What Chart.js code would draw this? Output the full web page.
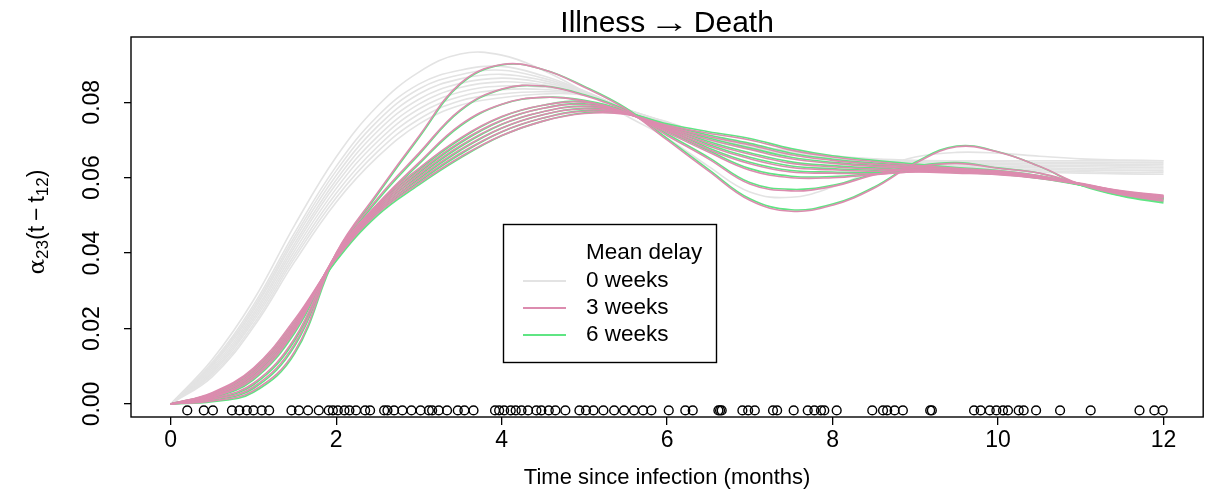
<!DOCTYPE html>
<html>
<head>
<meta charset="utf-8">
<script src="https://cdn.jsdelivr.net/npm/chart.js@4.4.1/dist/chart.umd.min.js"></script>
<style>
  html, body { margin: 0; padding: 0; background: #fff; }
</style>
</head>
<body>
<canvas id="myChart" width="1209" height="493"></canvas>
<script>
// time grid (months since infection) for the hazard curves
const months = [0, 0.5, 1, 1.5, 2, 2.5, 3, 3.5, 4, 4.5, 5, 5.5, 6, 6.5, 7, 7.5, 8, 8.5, 9, 9.5, 10, 10.5, 11, 11.5, 12];

// mean delay 0 weeks
const weeks0 = [
  [0, .0117, .0275, .0475, .0655, .0790, .0880, .0928, .0925, .0885, .0828, .0765, .0705, .0630, .0562, .0548, .0575, .0620, .0655, .0667, .0665, .0657, .0650, .0647, .0645],
  [0, .0110, .0262, .0455, .0630, .0763, .0848, .0885, .0895, .0870, .0830, .0782, .0748, .0712, .0688, .0670, .0658, .0650, .0646, .0645, .0645, .0645, .0645, .0645, .0645],
  [0, .0105, .0255, .0445, .0618, .0750, .0835, .0873, .0885, .0864, .0829, .0782, .0747, .0711, .0687, .0669, .0657, .0649, .0644, .0642, .0642, .0641, .0641, .0641, .0640],
  [0, .0101, .0248, .0436, .0606, .0736, .0822, .0862, .0874, .0858, .0827, .0782, .0746, .0709, .0685, .0668, .0656, .0647, .0642, .0639, .0638, .0637, .0637, .0636, .0636],
  [0, .0096, .0240, .0426, .0594, .0723, .0808, .0850, .0864, .0852, .0826, .0781, .0745, .0708, .0684, .0666, .0654, .0646, .0640, .0636, .0635, .0633, .0633, .0632, .0631],
  [0, .0091, .0233, .0417, .0583, .0709, .0795, .0839, .0854, .0846, .0824, .0781, .0744, .0706, .0682, .0665, .0653, .0644, .0638, .0634, .0631, .0630, .0629, .0628, .0627],
  [0, .0086, .0226, .0407, .0571, .0696, .0782, .0827, .0843, .0840, .0823, .0780, .0743, .0705, .0681, .0664, .0652, .0643, .0636, .0631, .0628, .0626, .0624, .0623, .0623],
  [0, .0082, .0219, .0397, .0559, .0682, .0769, .0815, .0833, .0834, .0821, .0780, .0742, .0703, .0679, .0663, .0651, .0641, .0634, .0628, .0624, .0622, .0620, .0619, .0618],
  [0, .0077, .0211, .0388, .0547, .0669, .0755, .0804, .0822, .0828, .0820, .0779, .0741, .0702, .0678, .0661, .0649, .0640, .0632, .0625, .0621, .0618, .0616, .0614, .0614],
  [0, .0072, .0204, .0378, .0535, .0655, .0742, .0792, .0812, .0822, .0818, .0779, .0740, .0700, .0676, .0660, .0648, .0638, .0630, .0622, .0617, .0614, .0612, .0610, .0609]
];

// mean delay 3 weeks
const weeks3 = [
  [0, .0008, .0035, .0140, .0400, .0560, .0710, .0850, .0900, .0887, .0840, .0782, .0700, .0618, .0540, .0511, .0527, .0572, .0638, .0682, .0668, .0630, .0582, .0555, .0538],
  [0, .0012, .0045, .0160, .0400, .0545, .0665, .0780, .0835, .0843, .0818, .0777, .0712, .0650, .0583, .0565, .0577, .0607, .0628, .0638, .0625, .0612, .0583, .0556, .0542],
  [0, .0015, .0055, .0175, .0398, .0530, .0640, .0740, .0795, .0813, .0803, .0773, .0720, .0668, .0620, .0600, .0600, .0608, .0616, .0618, .0613, .0604, .0582, .0558, .0546],
  [0, .0018, .0068, .0195, .0397, .0530, .0625, .0705, .0762, .0792, .0800, .0772, .0725, .0675, .0637, .0615, .0612, .0610, .0615, .0612, .0608, .0598, .0582, .0560, .0548],
  [0, .0020, .0073, .0201, .0395, .0525, .0617, .0695, .0752, .0784, .0794, .0771, .0728, .0684, .0650, .0627, .0621, .0617, .0619, .0615, .0610, .0599, .0583, .0561, .0549],
  [0, .0023, .0079, .0207, .0392, .0520, .0609, .0685, .0742, .0775, .0788, .0770, .0731, .0692, .0662, .0638, .0629, .0623, .0622, .0617, .0612, .0601, .0583, .0562, .0550],
  [0, .0025, .0084, .0213, .0390, .0515, .0601, .0675, .0732, .0767, .0782, .0770, .0733, .0701, .0675, .0650, .0638, .0630, .0626, .0620, .0614, .0602, .0584, .0563, .0551],
  [0, .0028, .0090, .0219, .0387, .0510, .0593, .0665, .0722, .0758, .0776, .0769, .0736, .0709, .0687, .0661, .0646, .0636, .0629, .0622, .0616, .0604, .0584, .0564, .0552],
  [0, .0030, .0095, .0225, .0385, .0505, .0585, .0655, .0712, .0750, .0770, .0768, .0739, .0718, .0700, .0673, .0655, .0643, .0633, .0625, .0618, .0605, .0585, .0565, .0553]
];

// mean delay 6 weeks
const weeks6 = [
  [0, .0006, .0031, .0134, .0394, .0555, .0706, .0847, .0899, .0887, .0842, .0785, .0704, .0622, .0544, .0515, .0530, .0575, .0641, .0684, .0669, .0630, .0580, .0551, .0533],
  [0, .0010, .0041, .0154, .0394, .0540, .0661, .0777, .0834, .0843, .0820, .0780, .0716, .0654, .0587, .0569, .0580, .0610, .0631, .0640, .0626, .0612, .0581, .0552, .0537],
  [0, .0013, .0051, .0169, .0392, .0525, .0636, .0737, .0794, .0813, .0805, .0776, .0724, .0672, .0624, .0604, .0603, .0611, .0619, .0620, .0614, .0604, .0580, .0554, .0541],
  [0, .0016, .0064, .0189, .0391, .0525, .0621, .0702, .0761, .0792, .0802, .0775, .0729, .0679, .0641, .0619, .0615, .0613, .0618, .0614, .0609, .0598, .0580, .0556, .0543],
  [0, .0018, .0069, .0195, .0389, .0520, .0613, .0692, .0751, .0784, .0796, .0774, .0732, .0688, .0654, .0631, .0624, .0620, .0622, .0617, .0611, .0599, .0581, .0557, .0544],
  [0, .0021, .0075, .0201, .0386, .0515, .0605, .0682, .0741, .0775, .0790, .0773, .0735, .0696, .0666, .0642, .0632, .0626, .0625, .0619, .0613, .0601, .0581, .0558, .0545],
  [0, .0023, .0080, .0207, .0384, .0510, .0597, .0672, .0731, .0767, .0784, .0773, .0737, .0705, .0679, .0654, .0641, .0633, .0629, .0622, .0615, .0602, .0582, .0559, .0546],
  [0, .0026, .0086, .0213, .0381, .0505, .0589, .0662, .0721, .0758, .0778, .0772, .0740, .0713, .0691, .0665, .0649, .0639, .0632, .0624, .0617, .0604, .0582, .0560, .0547],
  [0, .0028, .0091, .0219, .0379, .0500, .0581, .0652, .0711, .0750, .0772, .0771, .0743, .0722, .0704, .0677, .0658, .0646, .0636, .0627, .0619, .0605, .0583, .0561, .0548]
];

// observed death times, shown as a rug of open circles
const deathTimes = [
  0.20, 0.40, 0.51, 0.74, 0.83, 0.92, 1.00, 1.10, 1.19, 1.46, 1.55, 1.66, 1.79, 1.91, 1.96, 2.02,
  2.10, 2.16, 2.24, 2.35, 2.41, 2.58, 2.62, 2.70, 2.80, 2.91, 3.02, 3.12, 3.16, 3.24, 3.34, 3.47,
  3.55, 3.66, 3.92, 3.97, 4.03, 4.11, 4.17, 4.24, 4.32, 4.42, 4.48, 4.57, 4.65, 4.77, 4.94, 5.02,
  5.11, 5.23, 5.36, 5.48, 5.60, 5.71, 5.81, 6.02, 6.22, 6.31, 6.62, 6.64, 6.66, 6.91, 6.98, 7.06,
  7.28, 7.33, 7.53, 7.70, 7.78, 7.86, 7.90, 8.05, 8.48, 8.61, 8.66, 8.75, 8.85, 9.18, 9.20, 9.71,
  9.79, 9.90, 9.98, 10.06, 10.12, 10.25, 10.31, 10.46, 10.75, 11.12, 11.71, 11.89, 11.99
];
const rugLevel = -0.0017;

const xTicks = [0, 2, 4, 6, 8, 10, 12];
const yTicks = [0, 0.02, 0.04, 0.06, 0.08];
const legendLabels = ['0 weeks', '3 weeks', '6 weeks'];
const colours = ['#e3e3e3', '#dc8caf', '#5fe583'];

const FONT = "'Liberation Sans', Arial, Helvetica, sans-serif";

function curveSets(rows, colour, order) {
  return rows.map(r => ({
    type: 'line',
    data: months.map((m, i) => ({ x: m, y: r[i] })),
    borderColor: colour,
    borderWidth: 1.6,
    pointRadius: 0,
    tension: 0.4,
    fill: false,
    order: order
  }));
}

const datasets = [
  ...curveSets(weeks0, colours[0], 4),
  ...curveSets(weeks6, colours[2], 3),
  ...curveSets(weeks3, colours[1], 2),
  {
    type: 'scatter',
    data: deathTimes.map(t => ({ x: t, y: rugLevel })),
    pointStyle: 'circle',
    pointRadius: 4.4,
    pointBorderWidth: 1.4,
    pointBorderColor: '#000',
    pointBackgroundColor: 'rgba(0,0,0,0)',
    order: 1
  }
];

// draws a row of text pieces (font, text, vertical shift) centred on 0
function drawPieces(ctx, parts) {
  let total = 0;
  parts.forEach(p => {
    ctx.font = p.f;
    p.w = ctx.measureText(p.t).width * (p.sx || 1) + (p.gap || 0);
    total += p.w;
  });
  let px = -total / 2;
  ctx.textAlign = 'left';
  parts.forEach(p => {
    ctx.font = p.f;
    ctx.save();
    ctx.translate(px + (p.gap || 0) / 2, p.dy || 0);
    ctx.scale(p.sx || 1, 1);
    ctx.fillText(p.t, 0, 0);
    ctx.restore();
    px += p.w;
  });
}

// frame, titles, rotated y labels and the legend box
const decorations = {
  id: 'decorations',
  afterDraw(chart) {
    const ctx = chart.ctx;
    const a = chart.chartArea;
    const ys = chart.scales.y;
    const cx = (a.left + a.right) / 2;
    ctx.save();
    ctx.strokeStyle = '#000';
    ctx.lineWidth = 1.4;
    ctx.strokeRect(a.left, a.top, a.right - a.left, a.bottom - a.top);

    ctx.fillStyle = '#000';
    ctx.textAlign = 'center';
    ctx.textBaseline = 'middle';

    // y tick labels, read bottom to top
    ctx.font = '23px ' + FONT;
    yTicks.forEach(v => {
      ctx.save();
      ctx.translate(92.5, ys.getPixelForValue(v));
      ctx.rotate(-Math.PI / 2);
      ctx.fillText(v.toFixed(2), 0, 0);
      ctx.restore();
    });

    // main title
    ctx.save();
    ctx.translate(cx, 23.5);
    drawPieces(ctx, [
      { t: 'Illness', f: '30px ' + FONT },
      { t: '\u2192', f: '30px ' + FONT, sx: 1.35, gap: 8 },
      { t: 'Death', f: '30px ' + FONT }
    ]);
    ctx.restore();

    // x axis title
    ctx.textAlign = 'center';
    ctx.font = '22px ' + FONT;
    ctx.fillText('Time since infection (months)', cx, 478);

    // y axis title with subscripts
    ctx.save();
    ctx.translate(38, 222);
    ctx.rotate(-Math.PI / 2);
    drawPieces(ctx, [
      { t: '\u03b1', f: "23px 'DejaVu Serif', serif" },
      { t: '23', f: '17px ' + FONT, dy: 5 },
      { t: '(t', f: '23px ' + FONT },
      { t: '\u2212', f: '23px ' + FONT, gap: 10 },
      { t: 't', f: '23px ' + FONT },
      { t: '12', f: '17px ' + FONT, dy: 5 },
      { t: ')', f: '23px ' + FONT }
    ]);
    ctx.restore();

    // legend
    ctx.lineWidth = 1.4;
    ctx.strokeRect(503.5, 224.5, 213, 138);
    ctx.font = '22.5px ' + FONT;
    ctx.textAlign = 'left';
    ctx.fillText('Mean delay', 586, 253);
    legendLabels.forEach((lab, i) => {
      const y = 281 + i * 27;
      ctx.strokeStyle = colours[i];
      ctx.lineWidth = 1.8;
      ctx.beginPath();
      ctx.moveTo(523, y);
      ctx.lineTo(566, y);
      ctx.stroke();
      ctx.fillText(lab, 586, y);
    });
    ctx.restore();
  }
};

var ctx = document.getElementById('myChart').getContext('2d');
var myChart = new Chart(ctx, {
  data: { datasets: datasets },
  options: {
    responsive: false,
    animation: false,
    layout: { padding: { top: 37, right: 3, left: 0, bottom: 0 } },
    plugins: {
      legend: { display: false },
      title: { display: false },
      tooltip: { enabled: false }
    },
    scales: {
      x: {
        type: 'linear',
        min: -0.48,
        max: 12.48,
        afterBuildTicks: s => { s.ticks = xTicks.map(v => ({ value: v })); },
        afterFit: s => { s.height = 76; },
        grid: { drawOnChartArea: false, drawTicks: true, tickLength: 8, color: '#000', lineWidth: 1.3 },
        border: { display: false },
        ticks: {
          color: '#000',
          font: { family: FONT, size: 23 },
          padding: 2,
          maxRotation: 0,
          autoSkip: false,
          callback: v => String(v)
        }
      },
      y: {
        type: 'linear',
        min: -0.00345,
        max: 0.0973,
        afterBuildTicks: s => { s.ticks = yTicks.map(v => ({ value: v })); },
        afterFit: s => { s.width = 131; },
        grid: { drawOnChartArea: false, drawTicks: true, tickLength: 7, color: '#000', lineWidth: 1.3 },
        border: { display: false },
        ticks: { display: false }
      }
    }
  },
  plugins: [decorations]
});
</script>
</body>
</html>
